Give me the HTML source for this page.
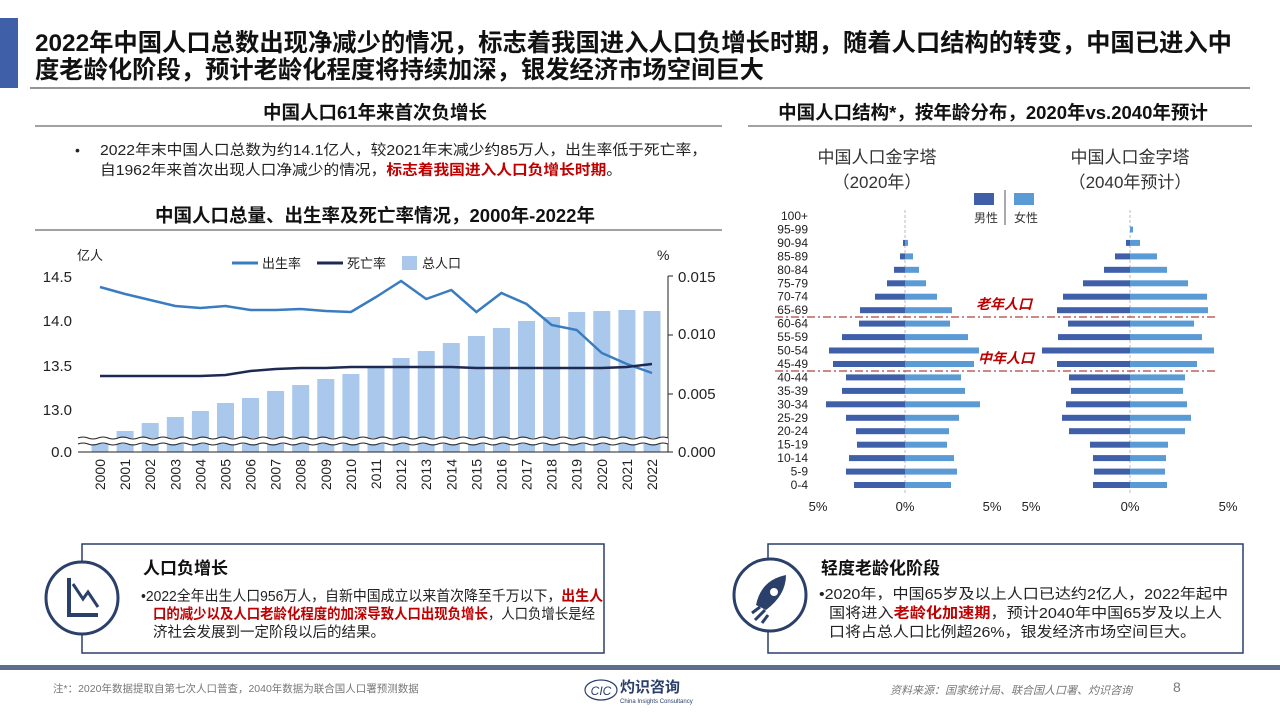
<!DOCTYPE html>
<html><head><meta charset="utf-8"><style>
html,body{margin:0;padding:0;background:#fff;}
svg{display:block;font-family:"Liberation Sans","Noto Sans CJK SC",sans-serif;}
</style></head><body>
<svg width="1280" height="720" viewBox="0 0 1280 720" xmlns="http://www.w3.org/2000/svg">
<rect width="1280" height="720" fill="#fff"/>
<!-- header -->
<rect x="0" y="18" width="18" height="70" fill="#3f5fa8"/>
<text x="35" y="51" font-size="24.3" font-weight="bold" fill="#111" textLength="1197" lengthAdjust="spacingAndGlyphs">2022年中国人口总数出现净减少的情况，标志着我国进入人口负增长时期，随着人口结构的转变，中国已进入中</text>
<text x="35" y="78" font-size="24.3" font-weight="bold" fill="#111">度老龄化阶段，预计老龄化程度将持续加深，银发经济市场空间巨大</text>
<line x1="30" y1="88" x2="1250" y2="88" stroke="#555" stroke-width="1.2"/>
<!-- section headings -->
<text x="375" y="119" font-size="18.5" font-weight="bold" text-anchor="middle" fill="#111">中国人口61年来首次负增长</text>
<line x1="35" y1="126" x2="722" y2="126" stroke="#444" stroke-width="1"/>
<text x="993" y="119" font-size="18.5" font-weight="bold" text-anchor="middle" fill="#111">中国人口结构*，按年龄分布，2020年vs.2040年预计</text>
<line x1="748" y1="126" x2="1252" y2="126" stroke="#444" stroke-width="1"/>
<text x="75" y="155" font-size="14" fill="#222">•</text>
<text x="100" y="155" font-size="14.5" fill="#222" textLength="607" lengthAdjust="spacingAndGlyphs">2022年末中国人口总数为约14.1亿人，较2021年末减少约85万人，出生率低于死亡率，</text>
<text x="100" y="175" font-size="14.5" fill="#222" textLength="522" lengthAdjust="spacingAndGlyphs">自1962年来首次出现人口净减少的情况，<tspan fill="#c00000" font-weight="bold">标志着我国进入人口负增长时期</tspan>。</text>
<text x="375" y="222" font-size="18.5" font-weight="bold" text-anchor="middle" fill="#111">中国人口总量、出生率及死亡率情况，2000年-2022年</text>
<line x1="35" y1="230" x2="722" y2="230" stroke="#444" stroke-width="1"/>
<!-- line chart -->
<text x="77" y="260" font-size="13" fill="#222">亿人</text>
<text x="657" y="260" font-size="14" fill="#222">%</text>
<line x1="232" y1="263" x2="258" y2="263" stroke="#3a7cc0" stroke-width="3"/>
<text x="262" y="268" font-size="13" fill="#222">出生率</text>
<line x1="317" y1="263" x2="343" y2="263" stroke="#1f2a52" stroke-width="3"/>
<text x="347" y="268" font-size="13" fill="#222">死亡率</text>
<rect x="402" y="256" width="15" height="14" fill="#a9c8ec"/>
<text x="422" y="268" font-size="13" fill="#222">总人口</text>
<g font-size="15" fill="#222" text-anchor="end">
<text x="72" y="282">14.5</text><text x="72" y="326">14.0</text><text x="72" y="371">13.5</text><text x="72" y="415">13.0</text><text x="72" y="457">0.0</text>
</g>
<g font-size="15" fill="#222">
<text x="678" y="282">0.015</text><text x="678" y="339">0.010</text><text x="678" y="399">0.005</text><text x="678" y="457">0.000</text>
</g>
<line x1="668" y1="276" x2="668" y2="452" stroke="#222"/>
<g stroke="#222"><line x1="668" y1="276" x2="673" y2="276"/><line x1="668" y1="335" x2="673" y2="335"/><line x1="668" y1="394" x2="673" y2="394"/><line x1="668" y1="452" x2="673" y2="452"/></g>
<g fill="#a9c8ec">
<rect x="91.5" y="439" width="17" height="13"/><rect x="116.6" y="431" width="17" height="21"/><rect x="141.7" y="423" width="17" height="29"/><rect x="166.8" y="417" width="17" height="35"/><rect x="191.9" y="411" width="17" height="41"/><rect x="217" y="403" width="17" height="49"/><rect x="242" y="398" width="17" height="54"/><rect x="267.1" y="391" width="17" height="61"/><rect x="292.2" y="385" width="17" height="67"/><rect x="317.3" y="379" width="17" height="73"/><rect x="342.4" y="374" width="17" height="78"/><rect x="367.5" y="367" width="17" height="85"/><rect x="392.6" y="358" width="17" height="94"/><rect x="417.7" y="351" width="17" height="101"/><rect x="442.8" y="343" width="17" height="109"/><rect x="467.9" y="336" width="17" height="116"/><rect x="492.9" y="328" width="17" height="124"/><rect x="518" y="321" width="17" height="131"/><rect x="543.1" y="317" width="17" height="135"/><rect x="568.2" y="312" width="17" height="140"/><rect x="593.3" y="311" width="17" height="141"/><rect x="618.4" y="310" width="17" height="142"/><rect x="643.5" y="311" width="17" height="141"/>
</g>
<!-- break -->
<rect x="78" y="438" width="590" height="6" fill="#fff"/>
<path d="M78 438 q5 -2 10 0 t10 0 t10 0 t10 0 t10 0 t10 0 t10 0 t10 0 t10 0 t10 0 t10 0 t10 0 t10 0 t10 0 t10 0 t10 0 t10 0 t10 0 t10 0 t10 0 t10 0 t10 0 t10 0 t10 0 t10 0 t10 0 t10 0 t10 0 t10 0 t10 0 t10 0 t10 0 t10 0 t10 0 t10 0 t10 0 t10 0 t10 0 t10 0 t10 0 t10 0 t10 0 t10 0 t10 0 t10 0 t10 0 t10 0 t10 0 t10 0 t10 0 t10 0 t10 0 t10 0 t10 0 t10 0 t10 0 t10 0 t10 0 t10 0" fill="none" stroke="#222" stroke-width="1"/>
<path d="M78 444 q5 -2 10 0 t10 0 t10 0 t10 0 t10 0 t10 0 t10 0 t10 0 t10 0 t10 0 t10 0 t10 0 t10 0 t10 0 t10 0 t10 0 t10 0 t10 0 t10 0 t10 0 t10 0 t10 0 t10 0 t10 0 t10 0 t10 0 t10 0 t10 0 t10 0 t10 0 t10 0 t10 0 t10 0 t10 0 t10 0 t10 0 t10 0 t10 0 t10 0 t10 0 t10 0 t10 0 t10 0 t10 0 t10 0 t10 0 t10 0 t10 0 t10 0 t10 0 t10 0 t10 0 t10 0 t10 0 t10 0 t10 0 t10 0 t10 0 t10 0" fill="none" stroke="#222" stroke-width="1"/>
<line x1="78" y1="452" x2="668" y2="452" stroke="#222"/>
<polyline fill="none" stroke="#3a7cc0" stroke-width="2.5" points="100,287 125.1,294 150.2,300 175.3,306 200.4,308 225.5,306 250.5,310 275.6,310 300.7,309 325.8,311 350.9,312 376,297 401.1,281 426.2,299 451.3,290 476.4,312 501.4,293 526.5,304 551.6,325 576.7,330 601.8,353 626.9,364 652,373"/>
<polyline fill="none" stroke="#1f2a52" stroke-width="2.5" points="100,376 125.1,376 150.2,376 175.3,376 200.4,376 225.5,375 250.5,371 275.6,369 300.7,368 325.8,368 350.9,367 376,367 401.1,367 426.2,367 451.3,367 476.4,368 501.4,368 526.5,368 551.6,368 576.7,368 601.8,368 626.9,367 652,364"/>
<g font-size="14" fill="#222" text-anchor="end">
<text transform="translate(105,459) rotate(-90)">2000</text><text transform="translate(130.1,459) rotate(-90)">2001</text><text transform="translate(155.2,459) rotate(-90)">2002</text><text transform="translate(180.3,459) rotate(-90)">2003</text><text transform="translate(205.4,459) rotate(-90)">2004</text><text transform="translate(230.5,459) rotate(-90)">2005</text><text transform="translate(255.5,459) rotate(-90)">2006</text><text transform="translate(280.6,459) rotate(-90)">2007</text><text transform="translate(305.7,459) rotate(-90)">2008</text><text transform="translate(330.8,459) rotate(-90)">2009</text><text transform="translate(355.9,459) rotate(-90)">2010</text><text transform="translate(381,459) rotate(-90)">2011</text><text transform="translate(406.1,459) rotate(-90)">2012</text><text transform="translate(431.2,459) rotate(-90)">2013</text><text transform="translate(456.3,459) rotate(-90)">2014</text><text transform="translate(481.4,459) rotate(-90)">2015</text><text transform="translate(506.4,459) rotate(-90)">2016</text><text transform="translate(531.5,459) rotate(-90)">2017</text><text transform="translate(556.6,459) rotate(-90)">2018</text><text transform="translate(581.7,459) rotate(-90)">2019</text><text transform="translate(606.8,459) rotate(-90)">2020</text><text transform="translate(631.9,459) rotate(-90)">2021</text><text transform="translate(657,459) rotate(-90)">2022</text>
</g>
<!-- pyramid -->
<g font-size="17" fill="#333" text-anchor="middle">
<text x="877" y="163">中国人口金字塔</text><text x="877" y="188">（2020年）</text>
<text x="1130" y="163">中国人口金字塔</text><text x="1130" y="188">（2040年预计）</text>
</g>
<rect x="974" y="193" width="20" height="12" fill="#3f5fa8"/>
<rect x="1014" y="193" width="20" height="12" fill="#5b9bd5"/>
<line x1="1005" y1="190" x2="1005" y2="225" stroke="#555"/>
<text x="974" y="222" font-size="12" fill="#333">男性</text><text x="1014" y="222" font-size="12" fill="#333">女性</text>
<g font-size="12" fill="#222" text-anchor="end">
<text x="808" y="489">0-4</text><text x="808" y="475.6">5-9</text><text x="808" y="462.1">10-14</text><text x="808" y="448.7">15-19</text><text x="808" y="435.2">20-24</text><text x="808" y="421.8">25-29</text><text x="808" y="408.3">30-34</text><text x="808" y="394.9">35-39</text><text x="808" y="381.4">40-44</text><text x="808" y="368">45-49</text><text x="808" y="354.5">50-54</text><text x="808" y="341.1">55-59</text><text x="808" y="327.6">60-64</text><text x="808" y="314.2">65-69</text><text x="808" y="300.7">70-74</text><text x="808" y="287.3">75-79</text><text x="808" y="273.8">80-84</text><text x="808" y="260.4">85-89</text><text x="808" y="246.9">90-94</text><text x="808" y="233.5">95-99</text><text x="808" y="220">100+</text>
</g>
<line x1="905" y1="210" x2="905" y2="495" stroke="#bbb" stroke-dasharray="3,2"/>
<line x1="1130" y1="210" x2="1130" y2="495" stroke="#bbb" stroke-dasharray="3,2"/>
<g fill="#3f5fa8">
<rect x="854" y="482" width="51" height="6"/><rect x="846" y="468.6" width="59" height="6"/><rect x="849" y="455.1" width="56" height="6"/><rect x="857" y="441.7" width="48" height="6"/><rect x="856" y="428.2" width="49" height="6"/><rect x="846" y="414.8" width="59" height="6"/><rect x="826" y="401.3" width="79" height="6"/><rect x="842" y="387.9" width="63" height="6"/><rect x="846" y="374.4" width="59" height="6"/><rect x="833" y="361" width="72" height="6"/><rect x="829" y="347.5" width="76" height="6"/><rect x="842" y="334.1" width="63" height="6"/><rect x="859" y="320.6" width="46" height="6"/><rect x="860" y="307.2" width="45" height="6"/><rect x="875" y="293.7" width="30" height="6"/><rect x="887" y="280.3" width="18" height="6"/><rect x="894" y="266.8" width="11" height="6"/><rect x="900" y="253.4" width="5" height="6"/><rect x="903" y="239.9" width="2" height="6"/>
<rect x="1093" y="482" width="37" height="6"/><rect x="1094" y="468.6" width="36" height="6"/><rect x="1093" y="455.1" width="37" height="6"/><rect x="1090" y="441.7" width="40" height="6"/><rect x="1069" y="428.2" width="61" height="6"/><rect x="1062" y="414.8" width="68" height="6"/><rect x="1066" y="401.3" width="64" height="6"/><rect x="1071" y="387.9" width="59" height="6"/><rect x="1069" y="374.4" width="61" height="6"/><rect x="1057" y="361" width="73" height="6"/><rect x="1042" y="347.5" width="88" height="6"/><rect x="1058" y="334.1" width="72" height="6"/><rect x="1068" y="320.6" width="62" height="6"/><rect x="1057" y="307.2" width="73" height="6"/><rect x="1063" y="293.7" width="67" height="6"/><rect x="1083" y="280.3" width="47" height="6"/><rect x="1104" y="266.8" width="26" height="6"/><rect x="1115" y="253.4" width="15" height="6"/><rect x="1126" y="239.9" width="4" height="6"/>
</g>
<g fill="#5b9bd5">
<rect x="905" y="482" width="46" height="6"/><rect x="905" y="468.6" width="52" height="6"/><rect x="905" y="455.1" width="49" height="6"/><rect x="905" y="441.7" width="42" height="6"/><rect x="905" y="428.2" width="44" height="6"/><rect x="905" y="414.8" width="54" height="6"/><rect x="905" y="401.3" width="75" height="6"/><rect x="905" y="387.9" width="60" height="6"/><rect x="905" y="374.4" width="56" height="6"/><rect x="905" y="361" width="69" height="6"/><rect x="905" y="347.5" width="74" height="6"/><rect x="905" y="334.1" width="63" height="6"/><rect x="905" y="320.6" width="45" height="6"/><rect x="905" y="307.2" width="47" height="6"/><rect x="905" y="293.7" width="32" height="6"/><rect x="905" y="280.3" width="21" height="6"/><rect x="905" y="266.8" width="14" height="6"/><rect x="905" y="253.4" width="8" height="6"/><rect x="905" y="239.9" width="3" height="6"/>
<rect x="1130" y="482" width="37" height="6"/><rect x="1130" y="468.6" width="35" height="6"/><rect x="1130" y="455.1" width="36" height="6"/><rect x="1130" y="441.7" width="38" height="6"/><rect x="1130" y="428.2" width="55" height="6"/><rect x="1130" y="414.8" width="61" height="6"/><rect x="1130" y="401.3" width="57" height="6"/><rect x="1130" y="387.9" width="53" height="6"/><rect x="1130" y="374.4" width="55" height="6"/><rect x="1130" y="361" width="67" height="6"/><rect x="1130" y="347.5" width="84" height="6"/><rect x="1130" y="334.1" width="72" height="6"/><rect x="1130" y="320.6" width="64" height="6"/><rect x="1130" y="307.2" width="78" height="6"/><rect x="1130" y="293.7" width="77" height="6"/><rect x="1130" y="280.3" width="58" height="6"/><rect x="1130" y="266.8" width="37" height="6"/><rect x="1130" y="253.4" width="27" height="6"/><rect x="1130" y="239.9" width="10" height="6"/><rect x="1130" y="226.5" width="3" height="6"/>
</g>
<line x1="775" y1="317" x2="1218" y2="317" stroke="#b0403d" stroke-width="1.3" stroke-dasharray="8,3,2,3"/>
<line x1="775" y1="371" x2="1218" y2="371" stroke="#b0403d" stroke-width="1.3" stroke-dasharray="8,3,2,3"/>
<text x="976" y="309" font-size="14" font-style="italic" font-weight="bold" fill="#c00000">老年人口</text>
<text x="978" y="363" font-size="14" font-style="italic" font-weight="bold" fill="#c00000">中年人口</text>
<g font-size="13" fill="#222" text-anchor="middle">
<text x="818" y="511">5%</text><text x="905" y="511">0%</text><text x="992" y="511">5%</text>
<text x="1031" y="511">5%</text><text x="1130" y="511">0%</text><text x="1228" y="511">5%</text>
</g>
<!-- footer band -->
<rect x="0" y="665" width="1280" height="5" fill="#5e6d8a"/>
<!-- left box -->
<rect x="82" y="544" width="522" height="109" fill="#fff" stroke="#2a3f6a" stroke-width="1.5"/>
<circle cx="82" cy="598" r="36" fill="#fff" stroke="#2a3f6a" stroke-width="3"/>
<path d="M69 578 V615 H98" fill="none" stroke="#2a3f6a" stroke-width="4"/>
<path d="M73 584 L83 599 L88 592 L98 607" fill="none" stroke="#2a3f6a" stroke-width="3"/>
<text x="143" y="574" font-size="17" font-weight="bold" fill="#111">人口负增长</text>
<text x="141" y="601" font-size="14.5" fill="#222" textLength="462" lengthAdjust="spacingAndGlyphs">•2022全年出生人口956万人，自新中国成立以来首次降至千万以下，<tspan fill="#c00000" font-weight="bold">出生人</tspan></text>
<text x="153" y="619" font-size="14.5" fill="#222" textLength="442" lengthAdjust="spacingAndGlyphs"><tspan fill="#c00000" font-weight="bold">口的减少以及人口老龄化程度的加深导致人口出现负增长</tspan>，人口负增长是经</text>
<text x="153" y="637" font-size="14.5" fill="#222">济社会发展到一定阶段以后的结果。</text>
<!-- right box -->
<rect x="768" y="544" width="475" height="109" fill="#fff" stroke="#2a3f6a" stroke-width="1.5"/>
<circle cx="770" cy="595" r="36" fill="#fff" stroke="#2a3f6a" stroke-width="3"/>
<path d="M756 605 Q761 580 786 575 Q786 595 766 610 Z" fill="#2a3f6a"/>
<circle cx="774" cy="592" r="4" fill="#fff"/>
<path d="M752 613 L760 607 M755 620 L765 610 M762 623 L768 615" stroke="#2a3f6a" stroke-width="3"/>
<text x="821" y="574" font-size="17" font-weight="bold" fill="#111">轻度老龄化阶段</text>
<text x="819" y="599" font-size="14.5" fill="#222" textLength="409" lengthAdjust="spacingAndGlyphs">•2020年，中国65岁及以上人口已达约2亿人，2022年起中</text>
<text x="829" y="618" font-size="14.5" fill="#222" textLength="393" lengthAdjust="spacingAndGlyphs">国将进入<tspan fill="#c00000" font-weight="bold">老龄化加速期</tspan>，预计2040年中国65岁及以上人</text>
<text x="829" y="637" font-size="14.5" fill="#222" textLength="367" lengthAdjust="spacingAndGlyphs">口将占总人口比例超26%，银发经济市场空间巨大。</text>
<!-- footer -->
<text x="53" y="692" font-size="10.5" fill="#777">注*：2020年数据提取自第七次人口普查，2040年数据为联合国人口署预测数据</text>
<ellipse cx="601" cy="690" rx="16" ry="10" fill="none" stroke="#2a3f6a" stroke-width="1.2"/>
<text x="601" y="695" font-size="12" font-style="italic" text-anchor="middle" fill="#2a3f6a">CIC</text>
<text x="620" y="692" font-size="15" font-weight="bold" fill="#2a3f6a">灼识咨询</text>
<text x="620" y="703" font-size="6" fill="#2a3f6a">China Insights Consultancy</text>
<text x="890" y="694" font-size="11" font-style="italic" fill="#777">资料来源：国家统计局、联合国人口署、灼识咨询</text>
<text x="1173" y="692" font-size="14" fill="#777">8</text>
</svg>
</body></html>
